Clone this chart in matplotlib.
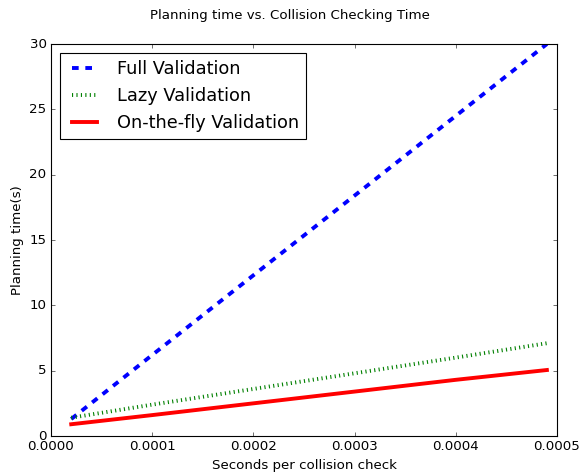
import matplotlib
matplotlib.use('Agg')
import matplotlib.pyplot as plt

plt.style.use('classic')

# seconds per collision check
check_time = [0.00002, 0.0001, 0.0002, 0.0003, 0.0004, 0.00049]
# planning time (s)
full_validation = [1.3, 6.2, 12.3, 18.4, 24.5, 30.0]
lazy_validation = [1.4, 2.4, 3.6, 4.8, 6.0, 7.1]
onthefly_validation = [0.9, 1.6, 2.5, 3.4, 4.3, 5.05]

# original looks like it was saved at 80 dpi
fig = plt.figure(figsize=(579 / 80, 474 / 80), dpi=80)
ax = fig.add_axes([51 / 579, 1 - 436 / 474, 506 / 579, 392 / 474])

ax.plot(check_time, full_validation, 'b--', linewidth=3.5, label='Full Validation')
ax.plot(check_time, lazy_validation, 'g:', linewidth=3.5, label='Lazy Validation')
ax.plot(check_time, onthefly_validation, 'r-', linewidth=3.5, label='On-the-fly Validation')

ax.set_xlim(0, 0.0005)
ax.set_ylim(0, 30)
ax.set_xticks([0, 0.0001, 0.0002, 0.0003, 0.0004, 0.0005])
ax.set_xticklabels(['0.0000', '0.0001', '0.0002', '0.0003', '0.0004', '0.0005'])
ax.set_xlabel('Seconds per collision check')
ax.set_ylabel('Planning time(s)')
fig.suptitle('Planning time vs. Collision Checking Time')

ax.legend(loc='upper left', fontsize=16)

fig.savefig('out.png', dpi=80)
